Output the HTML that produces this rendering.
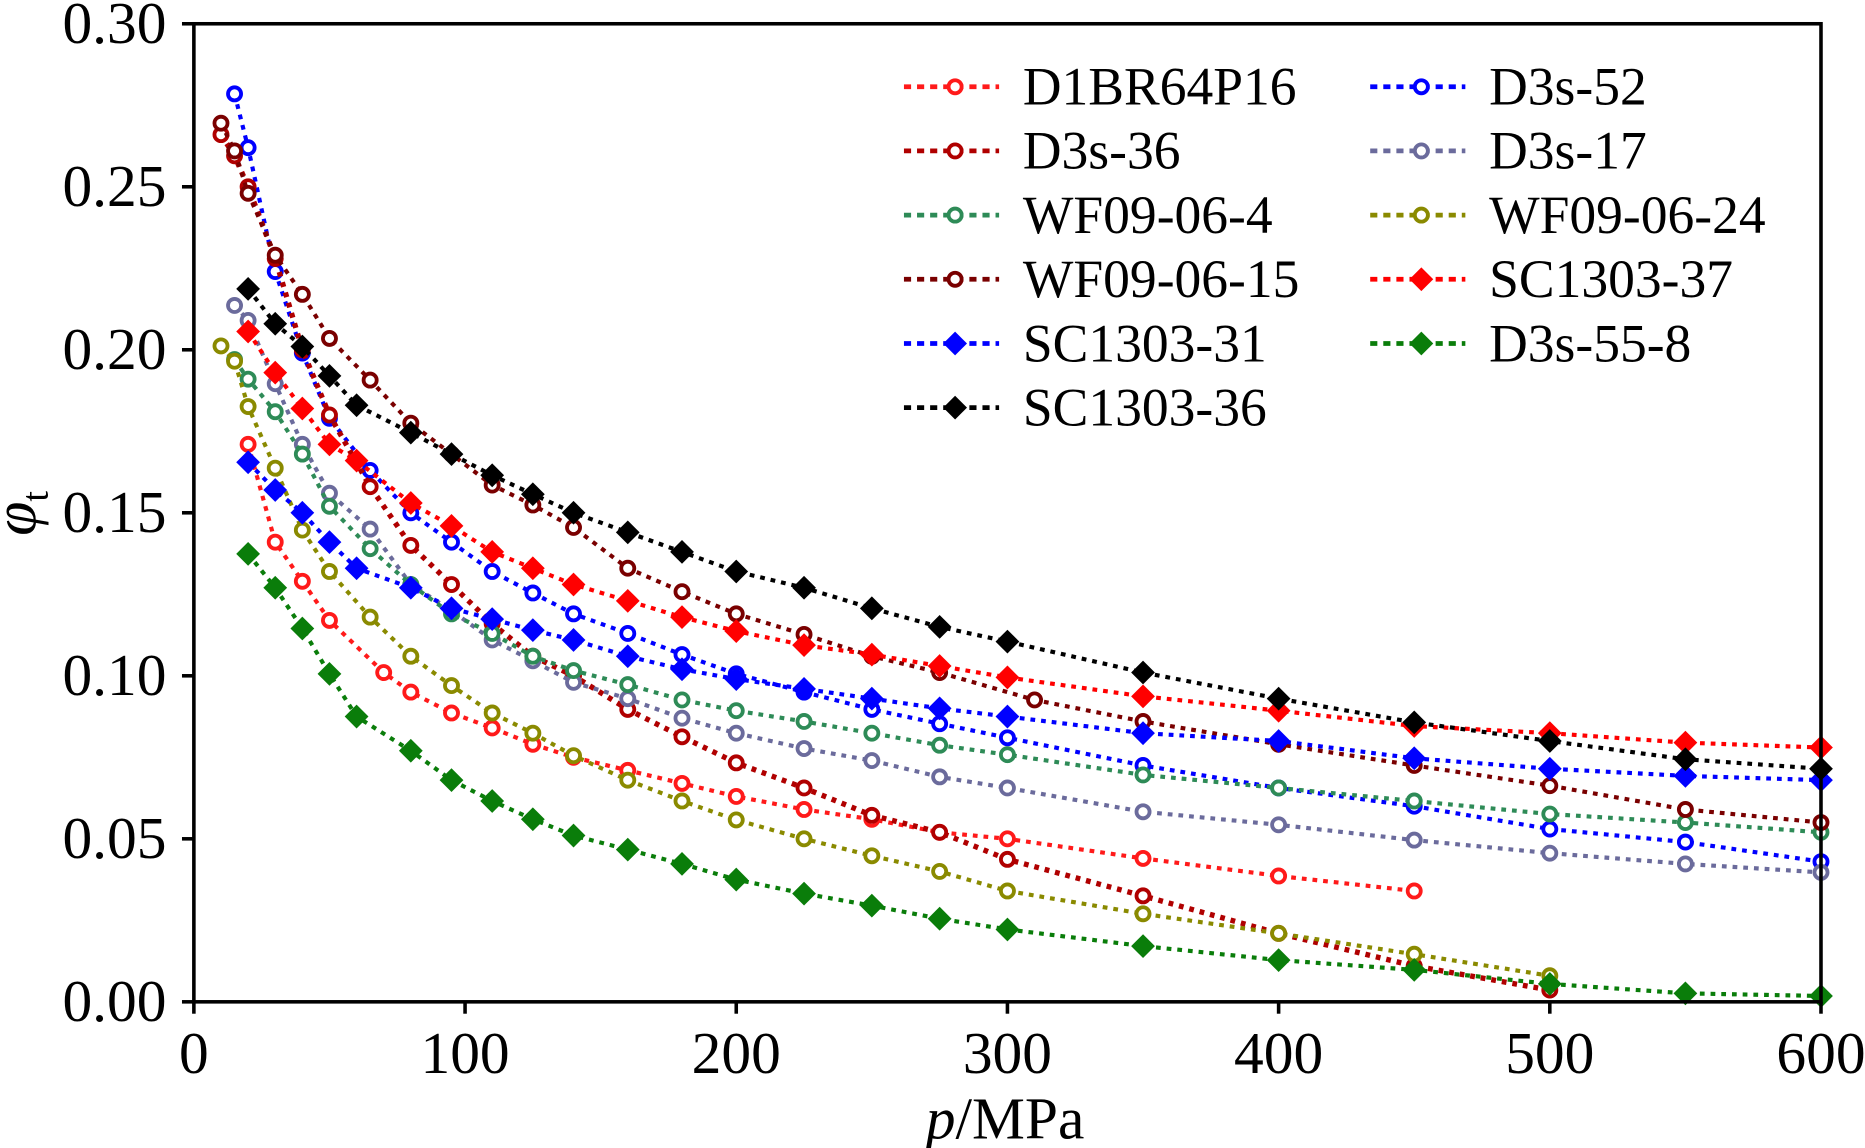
<!DOCTYPE html>
<html><head><meta charset="utf-8"><style>
html,body{margin:0;padding:0;background:#fff;}
svg{display:block;font-family:"Liberation Serif",serif;}
</style></head><body>
<svg id="chart" width="1865" height="1148" viewBox="0 0 1568 966" preserveAspectRatio="none" xmlns="http://www.w3.org/2000/svg">
<rect x="0" y="0" width="1568" height="966" fill="#fff"/>
<g id="series"></g>
<rect x="163" y="20" width="1368" height="823" fill="none" stroke="#000" stroke-width="3"/>
<g id="axes"></g>
<g id="legend"></g>
<text transform="translate(30,432) rotate(-90)" font-size="52" font-style="italic" text-anchor="middle">φ<tspan font-size="32" font-style="normal" dy="10">t</tspan></text>
<text x="845" y="958" font-size="50" text-anchor="middle"><tspan font-style="italic">p</tspan>/MPa</text>
</svg>
<script>
const xTicks=[0,100,200,300,400,500,600];
const yTicks=[0,0.05,0.10,0.15,0.20,0.25,0.30];
const yTickLabels=["0.00","0.05","0.10","0.15","0.20","0.25","0.30"];
const seriesNames=["D1BR64P16","D3s-52","D3s-36","D3s-17","WF09-06-4","WF09-06-24","WF09-06-15","SC1303-37","SC1303-31","D3s-55-8","SC1303-36"];
const p1=[20,30,40,50,70,80,95,110,125,140,160,180,200,225,250,275,300,350,400,450];
const v1=[0.171,0.141,0.129,0.117,0.101,0.095,0.0886,0.084,0.079,0.075,0.071,0.067,0.063,0.059,0.056,0.052,0.050,0.044,0.0386,0.034];
const p2=[15,20,30,40,50,65,80,95,110,125,140,160,180,200,225,250,275,300,350,400,450,500,550,600];
const v2=[0.2785,0.262,0.224,0.199,0.179,0.163,0.150,0.141,0.132,0.1254,0.119,0.113,0.1065,0.1006,0.095,0.0897,0.0853,0.081,0.0725,0.0656,0.060,0.053,0.049,0.043];
const p3=[10,15,20,30,40,50,65,80,95,110,125,140,160,180,200,225,250,275,300,350,400,450,500];
const v3=[0.266,0.2595,0.250,0.228,0.200,0.180,0.158,0.140,0.128,0.116,0.106,0.100,0.0897,0.0813,0.0733,0.0656,0.0572,0.052,0.0437,0.0325,0.021,0.011,0.0036];
const p4=[15,20,30,40,50,65,80,95,110,125,140,160,180,200,225,250,275,300,350,400,450,500,550,600];
const v4=[0.2136,0.209,0.1896,0.171,0.156,0.145,0.128,0.120,0.111,0.1046,0.098,0.093,0.087,0.0824,0.0777,0.074,0.069,0.0656,0.0583,0.0543,0.0496,0.0456,0.0423,0.0397];
const p5=[15,20,30,40,50,65,80,95,110,125,140,160,180,200,225,250,275,300,350,400,450,500,550,600];
const v5=[0.197,0.191,0.181,0.168,0.152,0.139,0.128,0.119,0.113,0.106,0.1016,0.0973,0.0926,0.0893,0.086,0.0824,0.0787,0.0758,0.0696,0.0656,0.0616,0.0576,0.055,0.052];
const p6=[10,15,20,30,40,50,65,80,95,110,125,140,160,180,200,225,250,275,300,350,400,450,500];
const v6=[0.2012,0.1965,0.1826,0.1637,0.1447,0.132,0.118,0.106,0.097,0.0886,0.0824,0.0755,0.068,0.0616,0.0558,0.050,0.0448,0.040,0.034,0.027,0.021,0.0146,0.008];
const p7=[10,15,20,30,40,50,65,80,95,110,125,140,160,180,200,225,250,275,310,350,400,450,500,550,600];
const v7=[0.2695,0.261,0.248,0.229,0.217,0.2035,0.1907,0.1775,0.168,0.1585,0.1524,0.1455,0.133,0.1258,0.119,0.1127,0.106,0.101,0.0926,0.086,0.079,0.0725,0.0663,0.059,0.055];
const p8=[20,30,40,50,60,80,95,110,125,140,160,180,200,225,250,275,300,350,400,450,500,550,600];
const v8=[0.2056,0.193,0.182,0.171,0.166,0.153,0.146,0.138,0.133,0.128,0.123,0.118,0.1137,0.1094,0.1065,0.103,0.0995,0.0937,0.0893,0.0846,0.0824,0.0795,0.078];
const p9=[20,30,40,50,60,80,95,110,125,140,160,180,200,225,250,275,300,350,400,450,500,550,600];
const v9=[0.1655,0.157,0.150,0.141,0.133,0.127,0.1207,0.1174,0.114,0.111,0.106,0.102,0.099,0.096,0.093,0.090,0.0875,0.0824,0.080,0.0747,0.0715,0.0693,0.068];
const p10=[20,30,40,50,60,80,95,110,125,140,160,180,200,225,250,275,300,350,400,450,500,550,600];
const v10=[0.1374,0.127,0.1145,0.1006,0.0875,0.077,0.068,0.0616,0.056,0.051,0.0467,0.0423,0.0375,0.0332,0.0295,0.0255,0.0222,0.0171,0.0128,0.0098,0.0055,0.0026,0.0018];
const p11=[20,30,40,50,60,80,95,110,125,140,160,180,200,225,250,275,300,350,400,450,500,550,600];
const v11=[0.2187,0.208,0.201,0.192,0.183,0.1746,0.168,0.1615,0.1557,0.150,0.144,0.138,0.132,0.127,0.1207,0.115,0.1105,0.101,0.093,0.0857,0.080,0.0744,0.0715];

const NS="http://www.w3.org/2000/svg";
const X0=163,X1=1531,Y0=843,Y1=20;
function xs(p){return X0+(p/600)*(X1-X0);}
function ys(v){return Y0-(v/0.30)*(Y0-Y1);}
function mk(tag,attrs,parent){const e=document.createElementNS(NS,tag);for(const k in attrs)e.setAttribute(k,attrs[k]);parent.appendChild(e);return e;}

const styles=[
 {c:"#ff1a1a",m:"o",w:3.5},{c:"#0000ff",m:"o",w:3.5},{c:"#b00000",m:"o",w:4.5},{c:"#6b6b9c",m:"o",w:3.5},
 {c:"#2e8b57",m:"o",w:3.5},{c:"#8a8a00",m:"o",w:3.5},{c:"#7a0000",m:"o",w:3.5},{c:"#ff0000",m:"d",w:3.5},
 {c:"#0000ff",m:"d",w:3.5},{c:"#0a7d0a",m:"d",w:3.5},{c:"#000000",m:"d",w:3.5}];
const P=[p1,p2,p3,p4,p5,p6,p7,p8,p9,p10,p11];
const V=[v1,v2,v3,v4,v5,v6,v7,v8,v9,v10,v11];

function marker(g,m,x,y,c){
  if(m==="o"){return mk("circle",{cx:x,cy:y,r:5.5,fill:"#fff",stroke:c,"stroke-width":3.2},g);}
  const s=10;return mk("polygon",{points:`${x},${y-s} ${x+s},${y} ${x},${y+s} ${x-s},${y}`,fill:c},g);
}
const sg=document.getElementById("series");
for(let i=0;i<11;i++){
  const g=mk("g",{},sg);
  
  
  const pts=P[i].map((p,j)=>xs(p)+","+ys(V[i][j])).join(" ");
  const l=mk("polyline",{points:pts,fill:"none",stroke:styles[i].c,"stroke-width":styles[i].w,"stroke-dasharray":"4 5"},g);
  
  
  P[i].forEach((p,j)=>{const e=marker(g,styles[i].m,xs(p),ys(V[i][j]),styles[i].c);
    
    });
}
const ax=document.getElementById("axes");
xTicks.forEach(t=>{
  const l=mk("line",{x1:xs(t),x2:xs(t),y1:843,y2:853,stroke:"#000","stroke-width":3},ax);
  
  
  const tx=mk("text",{x:xs(t),y:903,"font-size":50,"text-anchor":"middle"},ax);tx.textContent=t;
  
  
});
yTicks.forEach((t,i)=>{
  const l=mk("line",{x1:153,x2:163,y1:ys(t),y2:ys(t),stroke:"#000","stroke-width":3},ax);
  
  
  const tx=mk("text",{x:140,y:ys(t)+16,"font-size":50,"text-anchor":"end"},ax);tx.textContent=yTickLabels[i];
  
  
});
const lg=document.getElementById("legend");
for(let k=0;k<11;k++){
  const si=k;
  const col=k%2,row=Math.floor(k/2);
  const x=col?1152:760,y=73+row*54;
  const g=mk("g",{},lg);
  
  
  mk("line",{x1:x,x2:x+80,y1:y,y2:y,stroke:styles[si].c,"stroke-width":4,"stroke-dasharray":"6 5"},g);
  marker(g,styles[si].m,x+43,y,styles[si].c);
  const t=mk("text",{x:x+100,y:y+15,"font-size":45},g);t.textContent=seriesNames[si];
}
</script>
</body></html>
